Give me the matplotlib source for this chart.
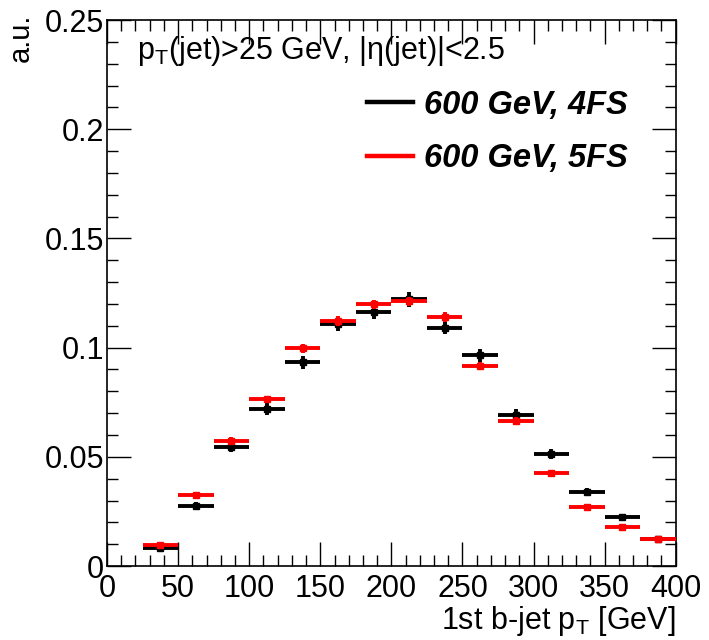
import numpy as np
import matplotlib
matplotlib.use('Agg')
from matplotlib import pyplot as plt
from matplotlib.ticker import MultipleLocator
from matplotlib.lines import Line2D

plt.rcParams['font.family'] = ['Liberation Sans', 'DejaVu Sans']
plt.rcParams['mathtext.fontset'] = 'custom'
plt.rcParams['mathtext.rm'] = 'Liberation Sans'
plt.rcParams['mathtext.it'] = 'Liberation Sans:italic'

# bin edges and contents
bin_lo = [25, 50, 75, 100, 125, 150, 175, 200, 225, 250, 275, 300, 325, 350, 375]
bin_width = 25
val_4fs = [0.0082, 0.0275, 0.0545, 0.0720, 0.0933, 0.1107, 0.1165, 0.1222,
           0.1091, 0.0966, 0.0693, 0.0514, 0.0339, 0.0224, 0.0125]
err_4fs = [0.0012, 0.0017, 0.0022, 0.0027, 0.0030, 0.0031, 0.0032, 0.0034,
           0.0028, 0.0030, 0.0024, 0.0023, 0.0019, 0.0013, 0.0010]
val_5fs = [0.0096, 0.0325, 0.0572, 0.0763, 0.0997, 0.1122, 0.1198, 0.1212,
           0.1139, 0.0917, 0.0665, 0.0427, 0.0269, 0.0179, 0.0122]
err_5fs = [0.0007, 0.0010, 0.0017, 0.0015, 0.0021, 0.0023, 0.0022, 0.0022,
           0.0023, 0.0016, 0.0017, 0.0009, 0.0008, 0.0007, 0.0006]
labels = ['600 GeV, 4FS', '600 GeV, 5FS']
colors = ['black', '#ff0000']

centers = np.array(bin_lo) + bin_width / 2.0

fig = plt.figure(figsize=(7.09, 6.40), dpi=100)
ax = fig.add_axes([0.151, 0.1156, 0.802, 0.853])

ax.errorbar(centers, val_4fs, xerr=bin_width / 2.0, yerr=err_4fs, fmt='s',
            color=colors[0], markersize=4, elinewidth=2.8, capsize=0, zorder=3)
ax.errorbar(centers, val_5fs, xerr=bin_width / 2.0, yerr=err_5fs, fmt='s',
            color=colors[1], markersize=4, elinewidth=2.8, capsize=0, zorder=4)

ax.set_xlim(0, 400)
ax.set_ylim(0, 0.25)
ax.xaxis.set_major_locator(MultipleLocator(50))
ax.xaxis.set_minor_locator(MultipleLocator(10))
ax.yaxis.set_minor_locator(MultipleLocator(0.01))
ax.set_yticks([0, 0.05, 0.1, 0.15, 0.2, 0.25])
ax.set_yticklabels(['0', '0.05', '0.1', '0.15', '0.2', '0.25'])
ax.tick_params(which='both', direction='in', top=True, right=True,
               labelsize=22, width=1)
ax.tick_params(which='major', length=17)
ax.tick_params(which='minor', length=8)
ax.tick_params(axis='x', which='major', pad=6)
ax.tick_params(axis='y', which='major', pad=2)
for s in ax.spines.values():
    s.set_linewidth(1.2)

ax.set_xlabel(r'1st b-jet p$_\mathregular{T}$ [GeV]', fontsize=22, loc='right', labelpad=0)
ax.set_ylabel('a.u.', fontsize=21, loc='top')
ax.yaxis.set_label_coords(-0.128, 1.012)

ax.text(0.052, 0.975, r'p$_\mathregular{T}$(jet)>25 GeV, |$\mathregular{\eta}$(jet)|<2.5',
        transform=ax.transAxes, fontsize=22, va='top', ha='left')

handles = [Line2D([], [], color=c, linewidth=3.2) for c in colors]
ax.legend(handles, labels, loc='upper left', bbox_to_anchor=(0.405, 0.926), frameon=False,
          handlelength=1.41, handletextpad=0.34, labelspacing=0.69,
          prop={'size': 23.5, 'weight': 'bold', 'style': 'italic'})

fig.savefig('out.png', dpi=100)
